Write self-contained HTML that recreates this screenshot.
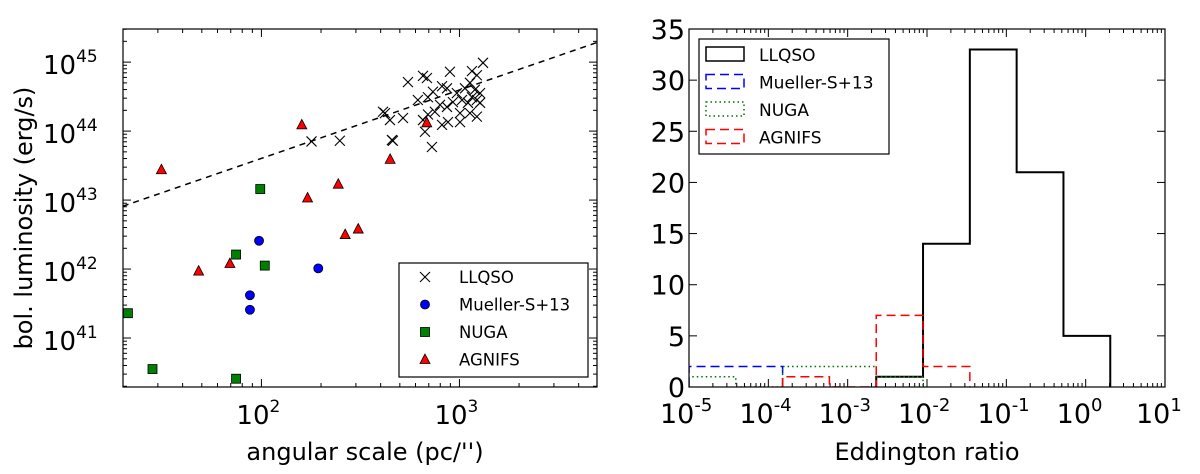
<!DOCTYPE html>
<html><head><meta charset="utf-8"><style>
html,body{margin:0;padding:0;background:#fff;}
svg{display:block;font-family:"DejaVu Sans","Liberation Sans",sans-serif;}
</style></head><body>
<svg id="fig" width="1200" height="474" viewBox="0 0 1200 474"></svg>
<script>
// ---- Left panel data (log10 values) ----
const llqsoLogX=[2.740,2.816,2.836,2.952,3.063,3.119,3.088,2.912,2.937,2.866,2.790,2.841,2.987,3.028,3.053,3.078,3.088,3.043,3.013,2.967,2.937,3.003,3.053,3.088,2.942,2.912,2.876,2.841,2.816,2.826,2.861,2.659,2.715,2.649,2.614,3.003,3.104,2.902,3.063,3.104,2.253,2.396,2.664,2.624];
const llqsoLogL=[44.71,44.80,44.77,44.86,44.87,44.99,44.81,44.65,44.62,44.57,44.45,44.49,44.55,44.62,44.70,44.60,44.45,44.41,44.45,44.42,44.35,44.26,44.26,44.21,44.13,44.09,44.28,44.24,44.16,43.99,43.77,43.87,44.19,44.16,44.28,44.13,44.41,44.38,44.49,44.55,43.85,43.86,43.86,44.26];
const muellerLogX=[1.988,2.287,1.942,1.942];
const muellerLogL=[42.41,42.01,41.62,41.41];
const nugaLogX=[1.994,1.872,2.017,1.326,1.450,1.872];
const nugaLogL=[43.16,42.21,42.05,41.36,40.55,40.41];
const agnifsLogX=[1.495,2.204,2.233,2.388,2.423,2.489,2.650,2.835,1.841,1.683];
const agnifsLogL=[43.44,44.09,43.03,43.23,42.50,42.58,43.59,44.12,42.08,41.97];
const fitLogX=[1.30,3.70];
const fitLogL=[42.91,45.29];
const leftXTicks=[2,3];
const leftYTicks=[41,42,43,44,45];
// ---- Right panel data ----
const llqsoEdges=[-2.64,-2.05,-1.46,-0.87,-0.28,0.31];
const llqsoCounts=[1,14,33,21,5];
const muellerEdges=[-5.0,-3.82];
const muellerCounts=[2];
const nugaEdges=[-5.0,-4.41,-3.82,-3.23,-2.64,-2.05];
const nugaCounts=[1,0,2,2,1];
const agnifsEdges=[-3.82,-3.23,-2.64,-2.05,-1.46];
const agnifsCounts=[1,0,7,2];
const rightXTicks=[-5,-4,-3,-2,-1,0,1];
const rightYTicks=[0,5,10,15,20,25,30,35];

const NS="http://www.w3.org/2000/svg";
const svg=document.getElementById('fig');
function mk(tag,attrs,parent){const e=document.createElementNS(NS,tag);for(const k in attrs)e.setAttribute(k,attrs[k]);(parent||svg).appendChild(e);return e;}

// Left axes
const L={x0:123,x1:597,y0:29,y1:387,lx0:Math.log10(20),lx1:Math.log10(4950),ly0:40.29,ly1:45.48};
function lxs(v){return L.x0+(v-L.lx0)/(L.lx1-L.lx0)*(L.x1-L.x0);}
function lys(v){return L.y1-(v-L.ly0)/(L.ly1-L.ly0)*(L.y1-L.y0);}
const gl=mk('g',{});


const clipL=mk('clipPath',{id:'cl'});mk('rect',{x:L.x0,y:L.y0,width:L.x1-L.x0,height:L.y1-L.y0},clipL);
for(let d=1;d<=3;d++)for(let m=1;m<10;m++){const v=d+Math.log10(m);if(v<L.lx0||v>L.lx1)continue;const x=lxs(v);const len=m==1?8:4;
 mk('line',{x1:x,y1:L.y1,x2:x,y2:L.y1-len,stroke:'#000','stroke-width':1},gl);mk('line',{x1:x,y1:L.y0,x2:x,y2:L.y0+len,stroke:'#000','stroke-width':1},gl);}
for(let d=40;d<=45;d++)for(let m=1;m<10;m++){const v=d+Math.log10(m);if(v<L.ly0||v>L.ly1)continue;const y=lys(v);const len=m==1?8:4;
 mk('line',{x1:L.x0,y1:y,x2:L.x0+len,y2:y,stroke:'#000','stroke-width':1},gl);mk('line',{x1:L.x1,y1:y,x2:L.x1-len,y2:y,stroke:'#000','stroke-width':1},gl);}
leftXTicks.forEach(t=>{const x=lxs(t);const tx=mk('text',{x:x-25,y:L.y1+37,'font-size':26},gl);tx.textContent='10';const s=mk('tspan',{dy:-12,'font-size':17},tx);s.textContent=String(t);
 });
leftYTicks.forEach(t=>{const y=lys(t);const tx=mk('text',{x:L.x0-80,y:y+12,'font-size':26},gl);tx.textContent='10';const s=mk('tspan',{dy:-12,'font-size':17},tx);s.textContent=String(t);
 });
const xt=mk('text',{x:(L.x0+L.x1)/2+5,y:460,'font-size':24,'text-anchor':'middle'},gl);xt.textContent="angular scale (pc/'')";

const yt=mk('text',{x:0,y:0,'font-size':24,'text-anchor':'middle',transform:`translate(32,${(L.y0+L.y1)/2+10}) rotate(-90)`},gl);yt.textContent='bol. luminosity (erg/s)';

const pl=mk('g',{'clip-path':'url(#cl)'},gl);
const fit=mk('line',{x1:lxs(fitLogX[0]),y1:lys(fitLogL[0]),x2:lxs(fitLogX[1]),y2:lys(fitLogL[1]),stroke:'#000','stroke-width':1.5,'stroke-dasharray':'6,5'},pl);

function cross(x,y,p){const g=mk('g',{},p);mk('line',{x1:x-5,y1:y-5,x2:x+5,y2:y+5,stroke:'#000','stroke-width':1.1},g);mk('line',{x1:x-5,y1:y+5,x2:x+5,y2:y-5,stroke:'#000','stroke-width':1.1},g);return g;}
function circ(x,y,p){return mk('circle',{cx:x,cy:y,r:4.5,fill:'#0000ff',stroke:'#000','stroke-width':0.8},p);}
function sq(x,y,p){return mk('rect',{x:x-4.5,y:y-4.5,width:9,height:9,fill:'#008000',stroke:'#000','stroke-width':0.8},p);}
function tri(x,y,p){return mk('polygon',{points:`${x},${y-5.5} ${x+5},${y+4} ${x-5},${y+4}`,fill:'#ff0000',stroke:'#000','stroke-width':0.8},p);}
llqsoLogX.forEach((v,i)=>{const e=cross(lxs(v),lys(llqsoLogL[i]),pl);
 });
muellerLogX.forEach((v,i)=>{const e=circ(lxs(v),lys(muellerLogL[i]),pl);
 });
nugaLogX.forEach((v,i)=>{const e=sq(lxs(v),lys(nugaLogL[i]),pl);
 });
agnifsLogX.forEach((v,i)=>{const e=tri(lxs(v),lys(agnifsLogL[i]),pl);
 });
mk('rect',{x:L.x0,y:L.y0,width:L.x1-L.x0,height:L.y1-L.y0,fill:'none',stroke:'#000','stroke-width':1.2},gl);
const lg=mk('g',{},gl);

mk('rect',{x:399,y:263,width:189,height:114,fill:'#fff',stroke:'#000','stroke-width':1.2},lg);
const names=['LLQSO','Mueller-S+13','NUGA','AGNIFS'];const fns=[cross,circ,sq,tri];
names.forEach((n,i)=>{const y=277+i*27.5;fns[i](425,y,lg);const t=mk('text',{x:459,y:y+6,'font-size':16.5},lg);t.textContent=n;
 });

// Right axes
const R={x0:689,x1:1165,y0:29,y1:387,lx0:-5,lx1:1,ymax:35};
function rxs(v){return R.x0+(v-R.lx0)/(R.lx1-R.lx0)*(R.x1-R.x0);}
function rys(v){return R.y1-v/R.ymax*(R.y1-R.y0);}
const gr=mk('g',{});

for(let d=-5;d<=0;d++)for(let m=1;m<10;m++){const v=d+Math.log10(m);const x=rxs(v);const len=m==1?8:4;
 mk('line',{x1:x,y1:R.y1,x2:x,y2:R.y1-len,stroke:'#000','stroke-width':1},gr);mk('line',{x1:x,y1:R.y0,x2:x,y2:R.y0+len,stroke:'#000','stroke-width':1},gr);}
rightXTicks.forEach(t=>{const x=rxs(t);const tx=mk('text',{x:x-29,y:R.y1+36,'font-size':27},gr);tx.textContent='10';const s=mk('tspan',{dy:-12,'font-size':18},tx);s.textContent=String(t);
 });
rightYTicks.forEach(t=>{const y=rys(t);mk('line',{x1:R.x0,y1:y,x2:R.x0+8,y2:y,stroke:'#000'},gr);mk('line',{x1:R.x1,y1:y,x2:R.x1-8,y2:y,stroke:'#000'},gr);
 const tx=mk('text',{x:R.x0-4,y:y+10,'font-size':27,'text-anchor':'end'},gr);tx.textContent=String(t);
 });
const xt2=mk('text',{x:(R.x0+R.x1)/2,y:460,'font-size':24,'text-anchor':'middle'},gr);xt2.textContent='Eddington ratio';

function stepPath(edges,counts){let d=`M${rxs(edges[0])},${rys(0)}`;counts.forEach((c,i)=>{d+=` L${rxs(edges[i])},${rys(c)} L${rxs(edges[i+1])},${rys(c)}`;});d+=` L${rxs(edges[edges.length-1])},${rys(0)}`;return d;}
const clipR=mk('clipPath',{id:'cr'});mk('rect',{x:R.x0,y:R.y0,width:R.x1-R.x0,height:R.y1-R.y0},clipR);
const pr=mk('g',{'clip-path':'url(#cr)'},gr);
const h1=mk('path',{d:stepPath(llqsoEdges,llqsoCounts),fill:'none',stroke:'#000','stroke-width':2},pr);

const h2=mk('path',{d:stepPath(muellerEdges,muellerCounts),fill:'none',stroke:'#0000ff','stroke-width':1.5,'stroke-dasharray':'9,5'},pr);

const h3=mk('path',{d:stepPath(nugaEdges,nugaCounts),fill:'none',stroke:'#007000','stroke-width':1.5,'stroke-dasharray':'1.5,3'},pr);

const h4=mk('path',{d:stepPath(agnifsEdges,agnifsCounts),fill:'none',stroke:'#ff0000','stroke-width':1.5,'stroke-dasharray':'9,5'},pr);

mk('rect',{x:R.x0,y:R.y0,width:R.x1-R.x0,height:R.y1-R.y0,fill:'none',stroke:'#000','stroke-width':1.2},gr);
const rg=mk('g',{},gr);

mk('rect',{x:699,y:39,width:190,height:115,fill:'#fff',stroke:'#000','stroke-width':1.2},rg);
const rs=[{s:'#000',da:'',w:1.5},{s:'#0000ff',da:'9,5',w:1.5},{s:'#007000',da:'1.5,3',w:1.5},{s:'#ff0000',da:'9,5',w:1.5}];
names.forEach((n,i)=>{const y=54+i*27.5;mk('rect',{x:706,y:y-7,width:38,height:14,fill:'none',stroke:rs[i].s,'stroke-width':rs[i].w,'stroke-dasharray':rs[i].da},rg);
 const t=mk('text',{x:759,y:y+7,'font-size':17},rg);t.textContent=n;
 });
</script>
</body></html>
